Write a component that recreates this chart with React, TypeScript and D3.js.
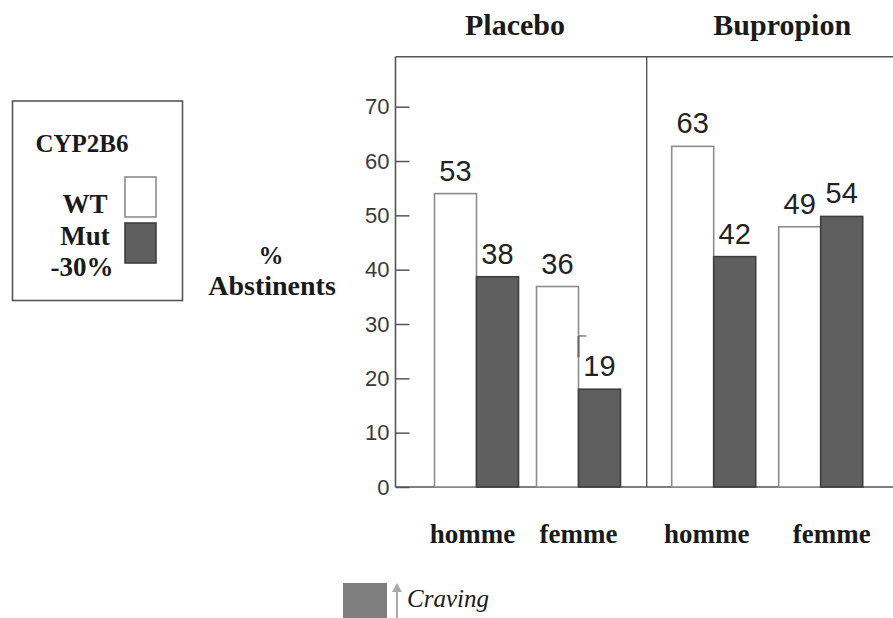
import { useEffect, useRef } from "react";
import * as d3 from "d3";

// data
const panels = ["Placebo", "Bupropion"];
const sexes = ["homme", "femme"];
const genotypes = ["WT", "Mut"];
// bar heights as drawn (%), order: panel -> sex -> [WT, Mut]
const barValues = [
  [[54, 38.7], [36.9, 18]],
  [[62.7, 42.4], [47.9, 49.8]],
];
// printed labels above the bars
const barLabels = [
  [["53", "38"], ["36", "19"]],
  [["63", "42"], ["49", "54"]],
];
const yTicks = [0, 10, 20, 30, 40, 50, 60, 70];

const W = 893, H = 618;
const ML = 395.5, MT = 56.7, MB = 131;
const panelW = 251.2;
// centre positions of the two sex groups inside each panel
const innerRange: Record<string, [number, number]> = {
  Placebo: [81, 183],
  Bupropion: [67, 174],
};
// title / category label centres inside each panel
const titleX: Record<string, number> = { Placebo: 119.5, Bupropion: 135.5 };
const catRange: Record<string, [number, number]> = {
  Placebo: [77, 183],
  Bupropion: [60, 185],
};
const BAR_W = 42;
const WT_FILL = "#ffffff", WT_STROKE = "#8c8c8c";
const MUT_FILL = "#5f5f5f", MUT_STROKE = "#3e3e3e";
const SERIF = "'Liberation Serif', 'Times New Roman', serif";
const SANS = "'Liberation Sans', Arial, sans-serif";

export default function App() {
  const ref = useRef<SVGSVGElement>(null);

  useEffect(() => {
    if (!ref.current) return;
    const svg = d3.select(ref.current);
    svg.selectAll("*").remove();

    const iH = H - MT - MB;
    const y = d3.scaleLinear().domain([0, 79.2]).range([iH, 0]);
    const px = d3.scaleBand().domain(panels).range([0, panelW * 2]);

    const g = svg.append("g").attr("transform", `translate(${ML},${MT})`);

    // frame
    g.append("line").attr("x1", 0).attr("x2", panelW * 2).attr("y1", 0).attr("y2", 0)
      .attr("stroke", "#555").attr("stroke-width", 1.6);
    g.append("line").attr("x1", 0).attr("x2", panelW * 2).attr("y1", iH).attr("y2", iH)
      .attr("stroke", "#555").attr("stroke-width", 1.6);
    g.append("line").attr("x1", 0).attr("x2", 0).attr("y1", 0).attr("y2", iH)
      .attr("stroke", "#555").attr("stroke-width", 1.6);
    g.append("line").attr("x1", px("Bupropion")!).attr("x2", px("Bupropion")!)
      .attr("y1", 0).attr("y2", iH)
      .attr("stroke", "#555").attr("stroke-width", 1.4);

    // y axis, ticks pointing inward
    g.append("g")
      .call(d3.axisLeft(y).tickValues(yTicks).tickSize(-14).tickPadding(6).tickFormat(d => `${d}`))
      .call(a => a.select(".domain").remove())
      .call(a => a.selectAll("line").attr("stroke", "#555").attr("stroke-width", 1.5))
      .call(a => a.selectAll("text").attr("font-family", SANS).attr("font-size", 22).attr("fill", "#3a3a3a"));

    panels.forEach((p, pi) => {
      const x0 = px(p)!;
      const sx = d3.scalePoint().domain(sexes).range(innerRange[p]);
      const cxLabel = d3.scalePoint().domain(sexes).range(catRange[p]);
      const gx = d3.scaleBand().domain(genotypes).range([-BAR_W, BAR_W]);

      // panel title
      g.append("text")
        .attr("x", x0 + titleX[p])
        .attr("y", 35 - MT)
        .attr("text-anchor", "middle").attr("font-family", SERIF)
        .attr("font-weight", 700).attr("font-size", 30).attr("fill", "#1a1a1a")
        .text(p);

      sexes.forEach((s, si) => {
        const cx = x0 + sx(s)!;
        genotypes.forEach((gt, gi) => {
          const v = barValues[pi][si][gi];
          const bx = cx + gx(gt)!;
          g.append("rect")
            .attr("x", bx).attr("y", y(v))
            .attr("width", gx.bandwidth()).attr("height", iH - y(v))
            .attr("fill", gt === "WT" ? WT_FILL : MUT_FILL)
            .attr("stroke", gt === "WT" ? WT_STROKE : MUT_STROKE)
            .attr("stroke-width", 1.6);
          g.append("text")
            .attr("x", bx + gx.bandwidth() / 2).attr("y", y(v) - 13)
            .attr("text-anchor", "middle").attr("font-family", SANS)
            .attr("font-size", 29).attr("fill", "#222")
            .text(barLabels[pi][si][gi]);
        });
        // category label
        g.append("text")
          .attr("x", x0 + cxLabel(s)!).attr("y", iH + 56)
          .attr("text-anchor", "middle").attr("font-family", SERIF)
          .attr("font-weight", 700).attr("font-size", 27).attr("fill", "#1a1a1a")
          .text(s);
      });
    });

    // small craving mark beside placebo femme Mut bar
    {
      const cx = px("Placebo")! + d3.scalePoint().domain(sexes).range(innerRange.Placebo)("femme")!;
      g.append("line").attr("x1", cx).attr("x2", cx).attr("y1", y(27.8)).attr("y2", y(23.9))
        .attr("stroke", "#666").attr("stroke-width", 2);
      g.append("line").attr("x1", cx).attr("x2", cx + 8).attr("y1", y(27.8)).attr("y2", y(27.8))
        .attr("stroke", "#777").attr("stroke-width", 1.4);
    }

    // y title
    svg.append("text").attr("x", 271).attr("y", 264)
      .attr("text-anchor", "middle").attr("font-family", SERIF)
      .attr("font-weight", 700).attr("font-size", 25).attr("fill", "#1a1a1a").text("%");
    svg.append("text").attr("x", 272).attr("y", 295)
      .attr("text-anchor", "middle").attr("font-family", SERIF)
      .attr("font-weight", 700).attr("font-size", 28).attr("fill", "#1a1a1a").text("Abstinents");

    // legend box
    const lg = svg.append("g");
    lg.append("rect").attr("x", 12.5).attr("y", 101).attr("width", 170).attr("height", 199.5)
      .attr("fill", "none").attr("stroke", "#555").attr("stroke-width", 1.6);
    lg.append("text").attr("x", 82).attr("y", 152)
      .attr("text-anchor", "middle").attr("font-family", SERIF)
      .attr("font-weight", 700).attr("font-size", 25).attr("fill", "#1a1a1a").text("CYP2B6");
    const legendRows = [
      { label: "WT", fill: WT_FILL, stroke: WT_STROKE, ty: 213, sy: 177 },
      { label: "Mut", fill: MUT_FILL, stroke: MUT_STROKE, ty: 245, sy: 223 },
    ];
    legendRows.forEach(r => {
      lg.append("rect").attr("x", 125).attr("y", r.sy).attr("width", 31).attr("height", 40)
        .attr("fill", r.fill).attr("stroke", r.stroke).attr("stroke-width", 1.6);
      lg.append("text").attr("x", 85).attr("y", r.ty)
        .attr("text-anchor", "middle").attr("font-family", SERIF)
        .attr("font-weight", 700).attr("font-size", 27).attr("fill", "#1a1a1a").text(r.label);
    });
    lg.append("text").attr("x", 82).attr("y", 276)
      .attr("text-anchor", "middle").attr("font-family", SERIF)
      .attr("font-weight", 700).attr("font-size", 27).attr("fill", "#1a1a1a").text("-30%");

    // craving legend
    svg.append("rect").attr("x", 343).attr("y", 583).attr("width", 44).attr("height", 40)
      .attr("fill", "#7e7e7e");
    svg.append("line").attr("x1", 397).attr("x2", 397).attr("y1", 590).attr("y2", 618)
      .attr("stroke", "#aaa").attr("stroke-width", 2);
    svg.append("path").attr("d", "M392,592 L397,583 L402,592 Z").attr("fill", "#aaa");
    svg.append("text").attr("x", 407).attr("y", 607)
      .attr("font-family", SERIF).attr("font-style", "italic")
      .attr("font-size", 25).attr("fill", "#1a1a1a").text("Craving");
  }, []);

  return (
    <div style={{ position: "fixed", left: 0, top: 0, width: W, height: H, overflow: "hidden", background: "#fff" }}>
      <svg ref={ref} width={W} height={H} style={{ display: "block" }} />
    </div>
  );
}
